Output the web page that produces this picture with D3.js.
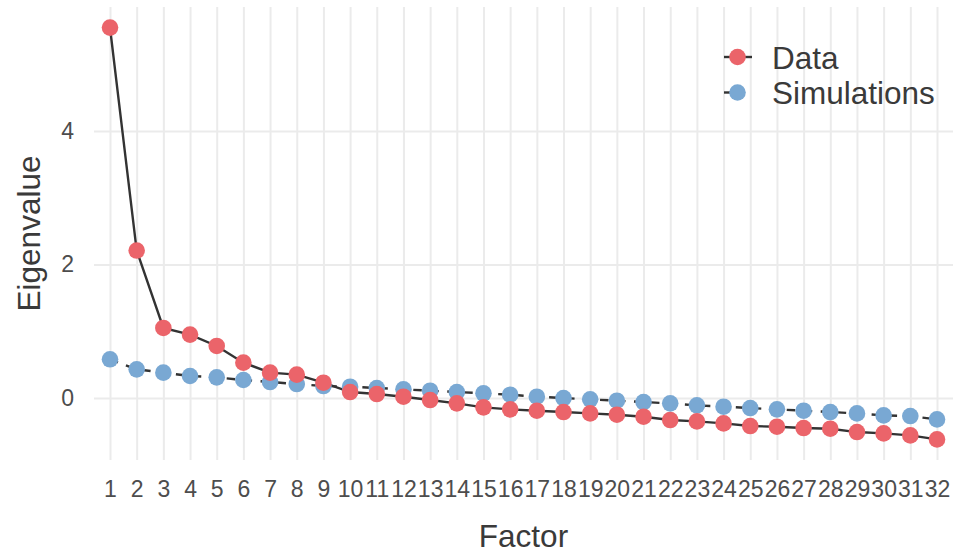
<!DOCTYPE html>
<html>
<head>
<meta charset="utf-8">
<script src="https://cdn.jsdelivr.net/npm/d3@7"></script>
<style>
  body { margin: 0; background: #fff; }
  text { font-family: "Liberation Sans", Arial, sans-serif; }
</style>
</head>
<body>
<div id="graph"></div>
<script>
// eigenvalues
const factors = d3.range(1, 33);
const dataValues = [5.55, 2.21, 1.05, 0.95, 0.78, 0.53, 0.38, 0.35, 0.23, 0.09,
    0.06, 0.02, -0.03, -0.08, -0.14, -0.17, -0.19, -0.21, -0.23, -0.25,
    -0.28, -0.33, -0.35, -0.38, -0.42, -0.43, -0.45, -0.46, -0.51, -0.53,
    -0.56, -0.62];
const simValues = [0.58, 0.43, 0.38, 0.33, 0.31, 0.27, 0.24, 0.21, 0.18, 0.17,
    0.15, 0.13, 0.11, 0.09, 0.07, 0.05, 0.02, 0.00, -0.02, -0.04,
    -0.06, -0.08, -0.11, -0.13, -0.15, -0.17, -0.19, -0.21, -0.23, -0.26,
    -0.27, -0.32];
const yTicks = [0, 2, 4];
const seriesNames = ["Data", "Simulations"];
const seriesColors = ["#EB646A", "#79A8D3"];

const width = 954, height = 559;
const panel = { left: 94, right: 953, top: 7, bottom: 460 };

const svg = d3.select("#graph").append("svg")
    .attr("width", width)
    .attr("height", height);

const x = d3.scalePoint()
    .domain(factors)
    .range([panel.left, panel.right])
    .padding(0.6);

// ggplot style 5% expansion
const all = dataValues.concat(simValues);
const [lo, hi] = d3.extent(all);
const pad = (hi - lo) * 0.05;
const y = d3.scaleLinear()
    .domain([lo - pad, hi + pad])
    .range([panel.bottom, panel.top]);

// grid lines
svg.append("g")
    .attr("transform", `translate(0, ${panel.bottom})`)
    .call(d3.axisBottom(x).tickSize(-(panel.bottom - panel.top)).tickFormat(""))
    .call(g => g.select(".domain").remove())
    .call(g => g.selectAll("line").attr("stroke", "#ebebeb").attr("stroke-width", 2));

svg.append("g")
    .attr("transform", `translate(${panel.left}, 0)`)
    .call(d3.axisLeft(y).tickValues(yTicks).tickSize(-(panel.right - panel.left)).tickFormat(""))
    .call(g => g.select(".domain").remove())
    .call(g => g.selectAll("line").attr("stroke", "#ebebeb").attr("stroke-width", 2));

// axis labels
svg.append("g")
    .attr("transform", `translate(0, ${panel.bottom})`)
    .call(d3.axisBottom(x).tickSize(0).tickPadding(21))
    .call(g => g.select(".domain").remove())
    .call(g => g.selectAll("text")
        .attr("fill", "#4d4d4d")
        .attr("font-size", 23)
        .attr("font-family", "Liberation Sans, Arial, sans-serif"));

svg.append("g")
    .attr("transform", `translate(${panel.left}, 0)`)
    .call(d3.axisLeft(y).tickValues(yTicks).tickFormat(d3.format("d")).tickSize(0).tickPadding(20))
    .call(g => g.select(".domain").remove())
    .call(g => g.selectAll("text")
        .attr("fill", "#4d4d4d")
        .attr("font-size", 23)
        .attr("font-family", "Liberation Sans, Arial, sans-serif"));

svg.append("text")
    .attr("x", (panel.left + panel.right) / 2)
    .attr("y", 547)
    .attr("text-anchor", "middle")
    .attr("font-size", 31.5)
    .attr("fill", "#3a3a3a")
    .text("Factor");

svg.append("text")
    .attr("transform", `translate(40, ${(panel.top + panel.bottom) / 2}) rotate(-90)`)
    .attr("text-anchor", "middle")
    .attr("font-size", 31.5)
    .attr("fill", "#3a3a3a")
    .text("Eigenvalue");

// lines
const line = d3.line()
    .x((d, i) => x(factors[i]))
    .y(d => y(d));

svg.append("path")
    .datum(simValues)
    .attr("fill", "none")
    .attr("stroke", "#333")
    .attr("stroke-width", 2.4)
    .attr("stroke-dasharray", "8.5,8.5")
    .attr("d", line);

svg.append("path")
    .datum(dataValues)
    .attr("fill", "none")
    .attr("stroke", "#333")
    .attr("stroke-width", 2.4)
    .attr("d", line);

// points (simulations first, data on top)
[simValues, dataValues].forEach((vals, k) => {
    const color = k === 0 ? seriesColors[1] : seriesColors[0];
    svg.append("g")
        .selectAll("circle")
        .data(vals)
        .join("circle")
        .attr("cx", (d, i) => x(factors[i]))
        .attr("cy", d => y(d))
        .attr("r", 8.3)
        .attr("fill", color);
});

// legend
const legend = svg.append("g").attr("transform", "translate(724, 0)");
seriesNames.forEach((name, i) => {
    const cy = 57 + i * 35.5;
    const row = legend.append("g");
    row.append("line")
        .attr("x1", 0).attr("x2", i === 0 ? 28 : 9)
        .attr("y1", cy).attr("y2", cy)
        .attr("stroke", "#333")
        .attr("stroke-width", 2.4);
    row.append("circle")
        .attr("cx", 13.5).attr("cy", cy)
        .attr("r", 8.3)
        .attr("fill", seriesColors[i]);
    row.append("text")
        .attr("x", 48).attr("y", cy + 11.5)
        .attr("font-size", 31.5)
        .attr("fill", "#3a3a3a")
        .text(name);
});
</script>
</body>
</html>
